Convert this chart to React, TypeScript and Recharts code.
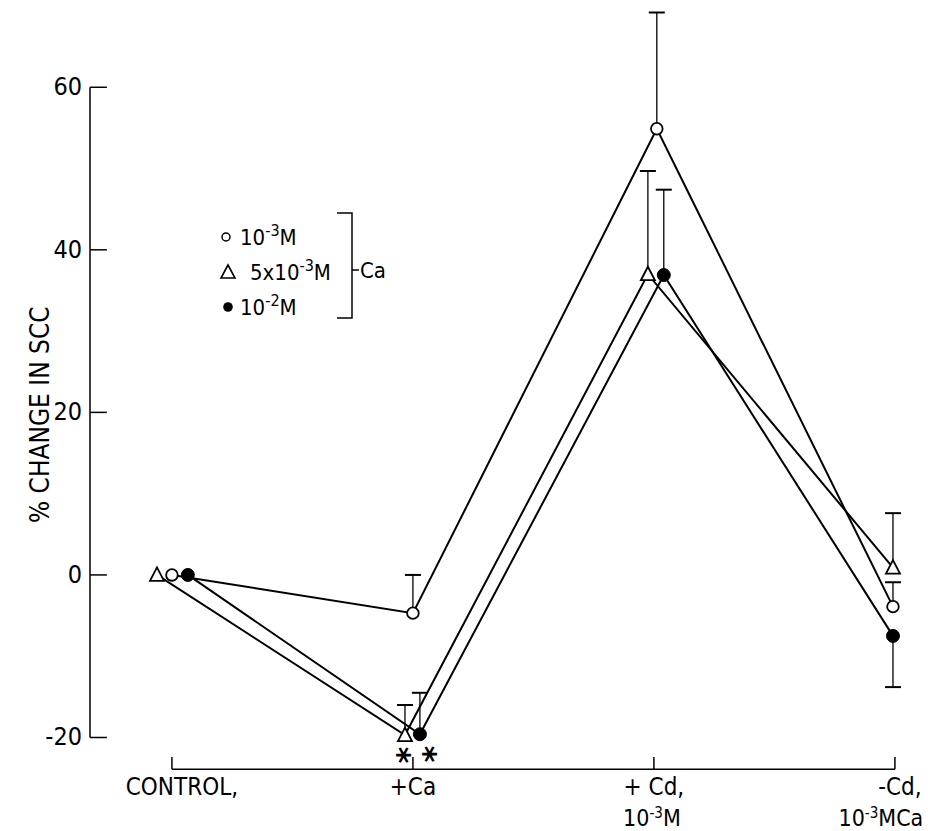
import React from 'react';
import { ScatterChart, Scatter, XAxis, YAxis, ReferenceLine, Legend } from 'recharts';

// ---- data ----
const categories = ['CONTROL,', '+Ca', '+ Cd,', '-Cd,'];
const categoryLine2Base = ['', '', '10', '10'];
const categoryLine2Exp = ['', '', '-3', '-3'];
const categoryLine2Unit = ['', '', 'M', 'MCa'];

const lowCaValues = [0, -4.7, 54.9, -3.9];
const lowCaErrEnd = [null, 0, 69.2, -0.9];
const midCaValues = [0, -19.7, 37.0, 0.9];
const midCaErrEnd = [null, -16.0, 49.7, 7.6];
const highCaValues = [0, -19.6, 36.9, -7.5];
const highCaErrEnd = [null, -14.5, 47.4, -13.8];
const midCaSignificant = [false, true, false, false];
const highCaSignificant = [false, true, false, false];

const yTicks = [-20, 0, 20, 40, 60];
const legendBase = ['10', '5x10', '10'];
const legendExp = ['-3', '-3', '-2'];
const legendUnit = 'M';
const bracketLabel = 'Ca';
const significanceMark = '*';

// ---- style constants ----
const FONT = '"Liberation Sans Narrow", "DejaVu Sans Condensed", "Liberation Sans", sans-serif';
const dodgeLow = [0, 0, 0.012, -0.008];
const dodgeMid = [-0.062, -0.033, -0.025, -0.008];
const dodgeHigh = [0.066, 0.029, 0.041, -0.008];
const X_DOMAIN: [number, number] = [-0.34, 3.1];
const Y_DOMAIN: [number, number] = [-24, 70];
// per-category horizontal placement of tick text: [line1 dx, line2 dx]
const xLabelPlacement: [number, number][] = [
  [10, 0],
  [0, 0],
  [0, -2],
  [5, -14],
];

type Pt = { x: number; y: number; sig?: boolean; cap?: boolean };

const buildSeries = (vals: number[], dodge: number[], sig?: boolean[]): Pt[] =>
  vals.map((v, i) => ({ x: i + dodge[i], y: v, sig: sig ? sig[i] : false }));

const buildErrors = (vals: number[], ends: (number | null)[], dodge: number[]): Pt[][] =>
  vals
    .map((v, i) =>
      ends[i] === null
        ? null
        : [
            { x: i + dodge[i], y: v, cap: false },
            { x: i + dodge[i], y: ends[i] as number, cap: true },
          ]
    )
    .filter((d): d is Pt[] => d !== null);

const lowSeries = buildSeries(lowCaValues, dodgeLow);
const midSeries = buildSeries(midCaValues, dodgeMid, midCaSignificant);
const highSeries = buildSeries(highCaValues, dodgeHigh, highCaSignificant);
const errorSets = [
  ...buildErrors(lowCaValues, lowCaErrEnd, dodgeLow),
  ...buildErrors(midCaValues, midCaErrEnd, dodgeMid),
  ...buildErrors(highCaValues, highCaErrEnd, dodgeHigh),
];

// ---- shapes ----
const Asterisk = ({ x, y }: { x: number; y: number }) => (
  <text
    x={x}
    y={y}
    textAnchor="middle"
    dominantBaseline="central"
    fontFamily='"DejaVu Sans", sans-serif'
    fontWeight="bold"
    fontSize={32}
    fill="#000"
    transform={`rotate(90 ${x} ${y})`}
  >
    {significanceMark}
  </text>
);

const OpenCircle = (p: any) => (
  <circle cx={p.cx} cy={p.cy} r={5.8} fill="#fff" stroke="#000" strokeWidth={1.8} />
);
const Triangle = (p: any) => (
  <g>
    <polygon
      points={`${p.cx},${p.cy - 7.5} ${p.cx - 7},${p.cy + 6} ${p.cx + 7},${p.cy + 6}`}
      fill="#fff"
      stroke="#000"
      strokeWidth={1.8}
    />
    {p.payload && p.payload.sig ? <Asterisk x={p.cx - 6} y={p.cy + 20} /> : null}
  </g>
);
const FilledCircle = (p: any) => (
  <g>
    <circle cx={p.cx} cy={p.cy} r={6.5} fill="#000" stroke="#000" strokeWidth={1} />
    {p.payload && p.payload.sig ? <Asterisk x={p.cx + 5} y={p.cy + 20} /> : null}
  </g>
);
const ErrCap = (p: any) =>
  p.payload && p.payload.cap ? (
    <line x1={p.cx - 8} x2={p.cx + 8} y1={p.cy} y2={p.cy} stroke="#000" strokeWidth={2} />
  ) : (
    <g />
  );

// ---- ticks ----
const XTick = (props: any) => {
  const { x, y, payload } = props;
  const i = Math.round(payload.value);
  const [dx1, dx2] = xLabelPlacement[i];
  return (
    <g fontFamily={FONT} fontSize={24} fill="#000">
      <text x={x + dx1} y={y + 17} textAnchor="middle" fill="#000">
        {categories[i]}
      </text>
      {categoryLine2Base[i] ? (
        <text x={x + dx2} y={y + 48} textAnchor="middle" fill="#000" fontSize={23}>
          {categoryLine2Base[i]}
          <tspan dy={-8} fontSize={15}>
            {categoryLine2Exp[i]}
          </tspan>
          <tspan dy={8}>{categoryLine2Unit[i]}</tspan>
        </text>
      ) : null}
    </g>
  );
};

const YTick = (props: any) => {
  const { x, y, payload } = props;
  return (
    <text x={x} y={y + 8} textAnchor="end" fontFamily={FONT} fontSize={25} fill="#000">
      {payload.value}
    </text>
  );
};

const YLabel = (props: any) => {
  const vb = props.viewBox || { x: 0, y: 0, width: 90, height: 760 };
  const cx = vb.x + 40;
  const cy = vb.y + vb.height * 0.535;
  return (
    <text
      x={cx}
      y={cy}
      textAnchor="middle"
      dominantBaseline="central"
      fontFamily={FONT}
      fontSize={26}
      fill="#000"
      transform={`rotate(-90 ${cx} ${cy})`}
    >
      % CHANGE IN SCC
    </text>
  );
};

// ---- legend ----
const LegendContent = () => {
  const rows = [237, 272, 307];
  const textX = [240, 250, 240];
  return (
    <div style={{ position: 'relative', width: 0, height: 0 }}>
      <svg
        width={928}
        height={831}
        style={{ position: 'absolute', left: 0, top: 0, overflow: 'visible', pointerEvents: 'none' }}
      >
        <circle cx={226} cy={rows[0]} r={4} fill="#fff" stroke="#000" strokeWidth={1.5} />
        <polygon
          points={`228,${rows[1] - 7} ${221},${rows[1] + 6} ${235},${rows[1] + 6}`}
          fill="#fff"
          stroke="#000"
          strokeWidth={1.6}
        />
        <circle cx={228} cy={rows[2]} r={4.8} fill="#000" />
        {legendBase.map((b, i) => (
          <text key={i} x={textX[i]} y={rows[i] + 8} fontFamily={FONT} fontSize={22} fill="#000">
            {b}
            <tspan dy={-9} fontSize={16}>
              {legendExp[i]}
            </tspan>
            <tspan dy={9}>{legendUnit}</tspan>
          </text>
        ))}
        <polyline points="337,213 352,213 352,318 337,318" fill="none" stroke="#000" strokeWidth={1.5} />
        <line x1={352} x2={359} y1={270} y2={270} stroke="#000" strokeWidth={1.5} />
        <text x={360} y={278} fontFamily={FONT} fontSize={22} fill="#000">
          {bracketLabel}
        </text>
      </svg>
    </div>
  );
};

export default function App() {
  return (
    <div style={{ position: 'absolute', left: 0, top: 0, width: 928, height: 831, background: '#fff' }}>
      <ScatterChart
        width={928}
        height={831}
        margin={{ top: 6, right: 9, bottom: 0, left: 0 }}
        style={{ overflow: 'visible' }}
      >
        <XAxis
          type="number"
          dataKey="x"
          domain={X_DOMAIN}
          ticks={[0, 1, 2, 3]}
          height={61}
          axisLine={false}
          tickLine={false}
          tick={<XTick />}
          interval={0}
        />
        <YAxis
          type="number"
          dataKey="y"
          domain={Y_DOMAIN}
          ticks={yTicks}
          width={90}
          axisLine={false}
          tickLine={false}
          tick={<YTick />}
          label={<YLabel />}
          interval={0}
        />
        <Legend
          content={<LegendContent />}
          wrapperStyle={{ left: 0, top: 0, bottom: 'auto', width: 0, height: 0 }}
        />
        {/* y axis line and ticks */}
        <ReferenceLine
          segment={[{ x: X_DOMAIN[0], y: yTicks[0] }, { x: X_DOMAIN[0], y: yTicks[yTicks.length - 1] }]}
          stroke="#000"
          strokeWidth={1.5}
          ifOverflow="visible"
        />
        {yTicks.map((t) => (
          <ReferenceLine
            key={'yt' + t}
            segment={[{ x: X_DOMAIN[0], y: t }, { x: X_DOMAIN[0] + 0.07, y: t }]}
            stroke="#000"
            strokeWidth={1.5}
            ifOverflow="visible"
          />
        ))}
        {/* x axis line and ticks */}
        <ReferenceLine
          segment={[{ x: 0, y: -23.9 }, { x: categories.length - 1, y: -23.9 }]}
          stroke="#000"
          strokeWidth={1.5}
          ifOverflow="visible"
        />
        {categories.map((c, i) => (
          <ReferenceLine
            key={'xt' + i}
            segment={[{ x: i, y: -23.9 }, { x: i, y: -22.4 }]}
            stroke="#000"
            strokeWidth={1.5}
            ifOverflow="visible"
          />
        ))}
        {errorSets.map((d, k) => (
          <Scatter
            key={'err' + k}
            data={d}
            line={{ stroke: '#000', strokeWidth: 1.3 }}
            shape={ErrCap}
            legendType="none"
            isAnimationActive={false}
          />
        ))}
        <Scatter
          name="10-3M"
          data={lowSeries}
          line={{ stroke: '#000', strokeWidth: 2 }}
          shape={OpenCircle}
          isAnimationActive={false}
        />
        <Scatter
          name="5x10-3M"
          data={midSeries}
          line={{ stroke: '#000', strokeWidth: 2 }}
          shape={Triangle}
          isAnimationActive={false}
        />
        <Scatter
          name="10-2M"
          data={highSeries}
          line={{ stroke: '#000', strokeWidth: 2 }}
          shape={FilledCircle}
          isAnimationActive={false}
        />
      </ScatterChart>
    </div>
  );
}
